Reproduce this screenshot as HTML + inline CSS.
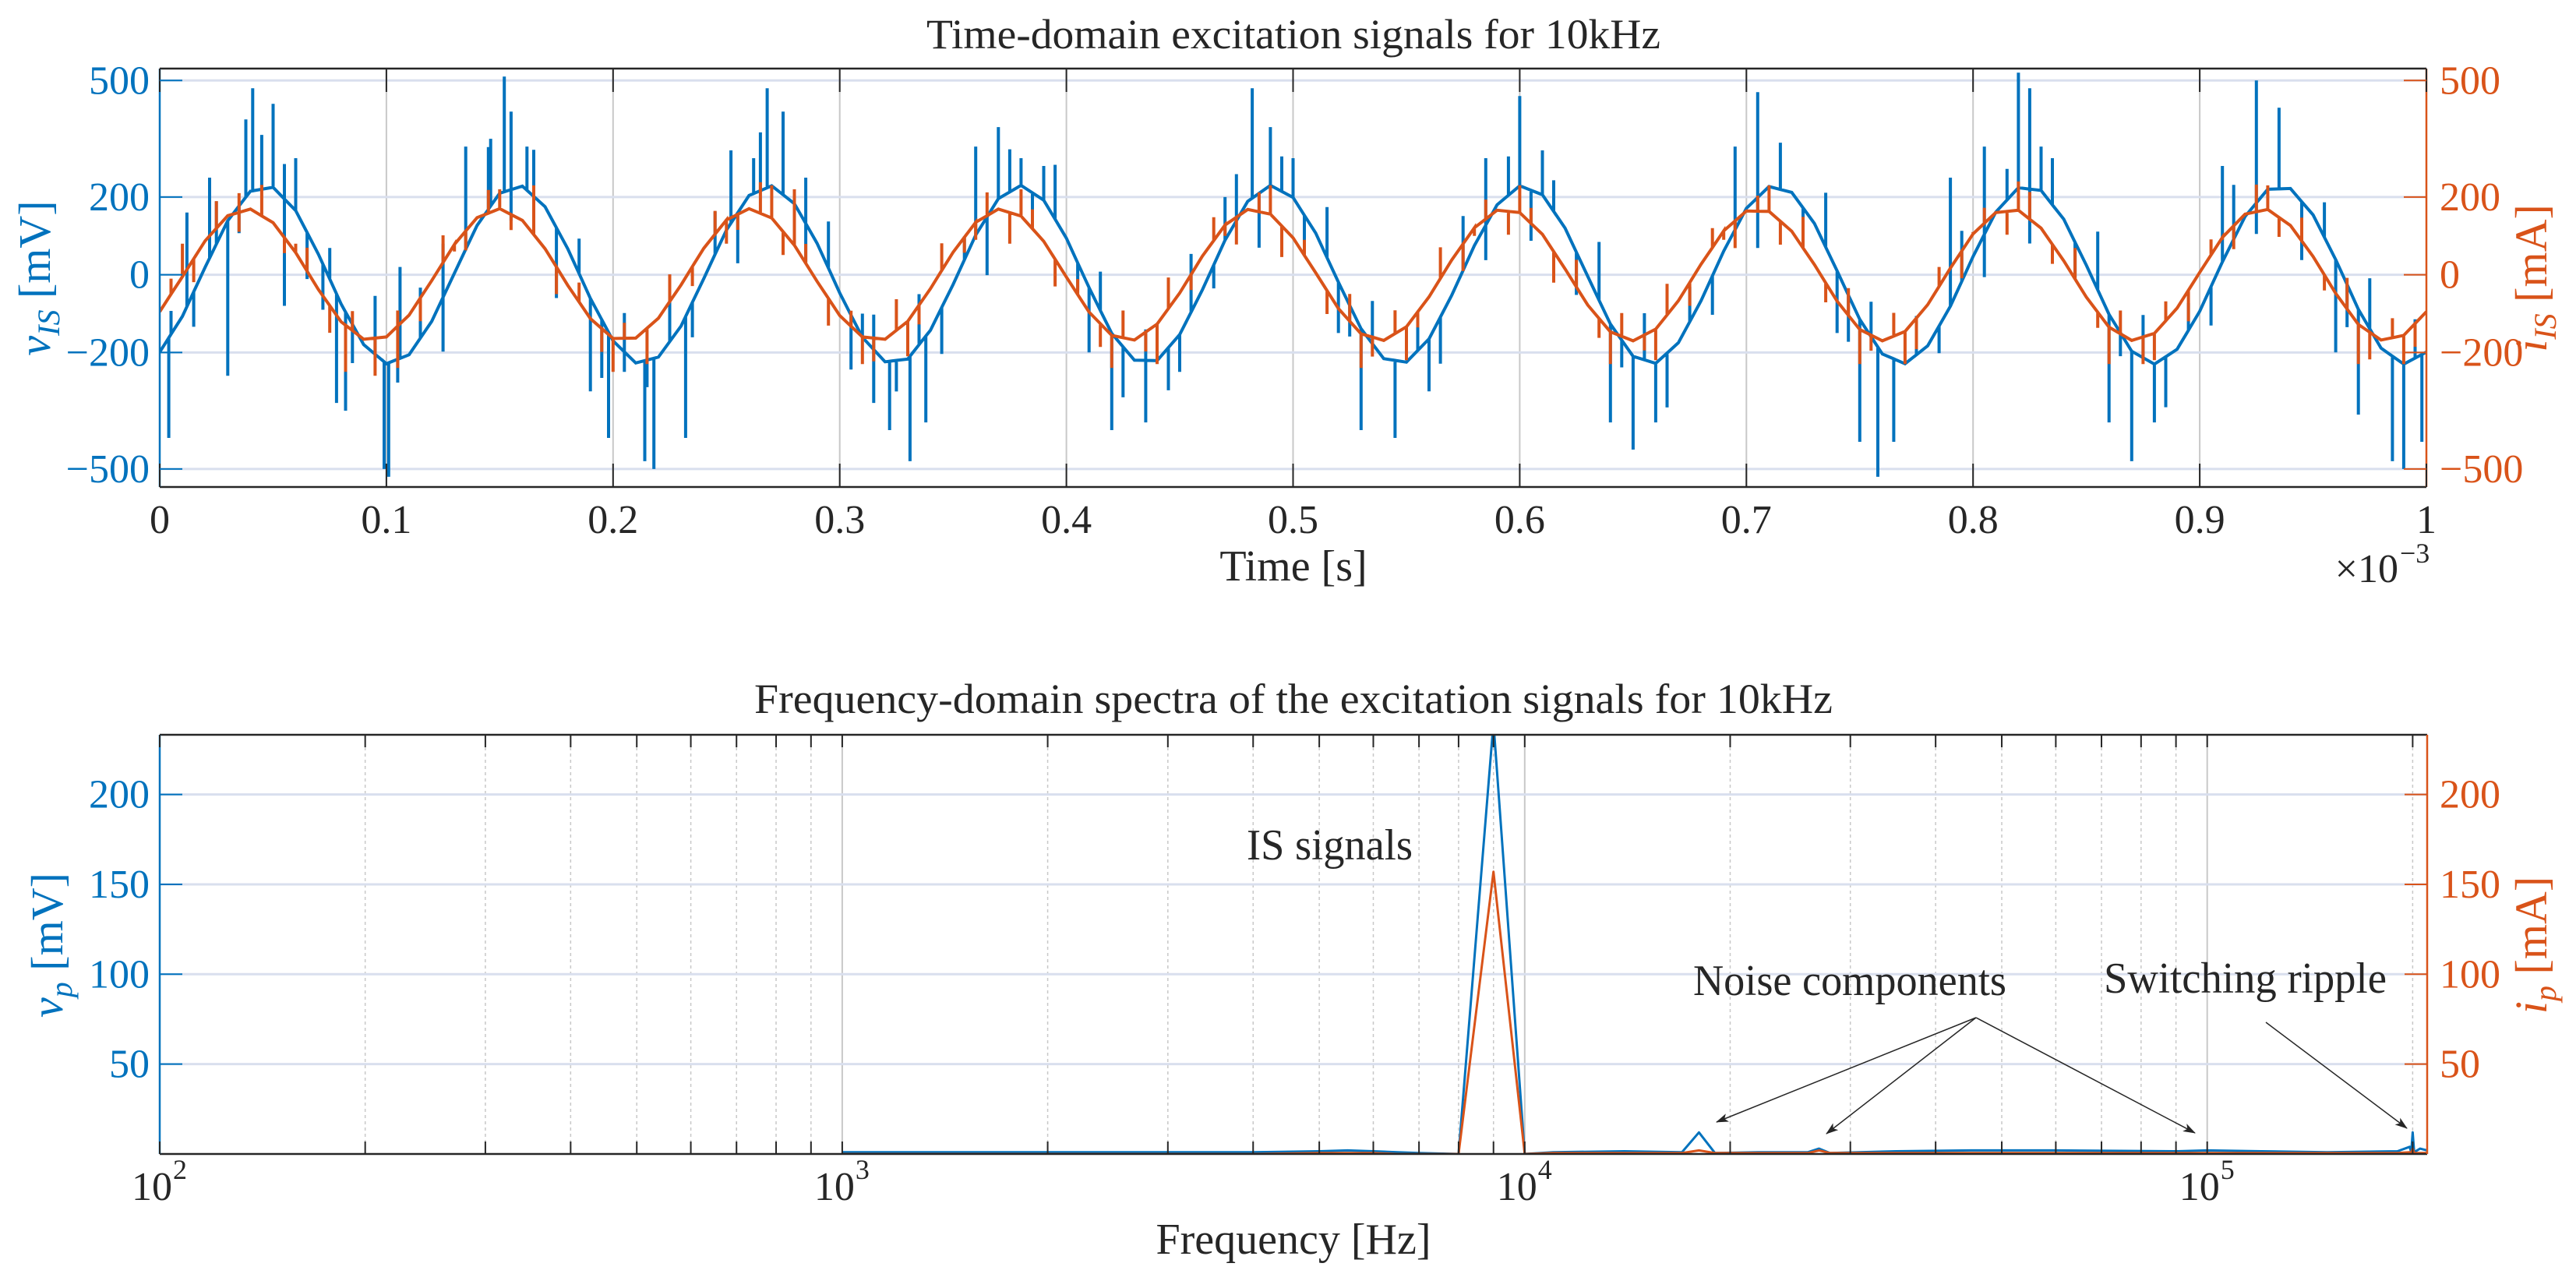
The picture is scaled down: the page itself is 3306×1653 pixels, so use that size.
<!DOCTYPE html>
<html><head><meta charset="utf-8">
<style>
html,body{margin:0;padding:0;background:#fff;}
svg{display:block;font-family:"Liberation Serif",serif;}
</style></head>
<body>
<svg id="fig" width="3306" height="1653" viewBox="0 0 3306 1653" xmlns="http://www.w3.org/2000/svg">
<rect x="0" y="0" width="3306" height="1653" fill="#fff"/>
<defs>
<clipPath id="clipTop"><rect x="205" y="88" width="2909" height="537"/></clipPath>
<clipPath id="clipBot"><rect x="205" y="943" width="2910" height="538"/></clipPath>
<marker id="arr" markerWidth="16" markerHeight="11" refX="15" refY="5.5" orient="auto" markerUnits="userSpaceOnUse"><path d="M0,0 L16,5.5 L0,11 L4,5.5 Z" fill="#262626"/></marker>
</defs>
<g id="topPlot"></g>
<g id="botPlot"></g>
</svg>
<script>
// ---------- Time-domain data (time in ms, values in mV / mA), sampled every 0.01 ms ----------
const timeStepMs = 0.01;
const vIS = [-199,-107,19,139,215,225,165,53,-75,-180,-229,-206,-120,4,127,210,228,175,67,-61,-170,-227,-212,-132,-10,115,204,229,183,81,-47,-161,-224,-217,-143,-25,102,196,230,192,94,-33,-151,-220,-221,-154,-39,89,189,230,199,107,-19,-139,-216,-225,-165,-53,75,180,229,206,120,-4,-127,-210,-228,-175,-67,61,171,227,212,132,10,-115,-204,-229,-183,-81,47,161,224,217,143,24,-102,-197,-230,-192,-94,33,150,220,222,154,39,-89,-189,-230,-199];
const iIS = [-95,-5,87,152,169,134,57,-38,-121,-166,-160,-104,-15,78,147,170,140,67,-27,-113,-164,-163,-112,-26,68,141,170,146,76,-17,-105,-160,-166,-120,-36,58,135,169,151,86,-6,-96,-156,-168,-127,-47,48,128,168,156,95,5,-87,-152,-169,-134,-57,38,121,166,160,104,15,-78,-147,-170,-140,-67,27,113,164,163,112,26,-68,-141,-170,-146,-77,17,105,160,166,120,36,-58,-135,-169,-151,-86,6,96,156,168,127,47,-48,-128,-168,-156,-95];
// mid-sample deviations (at t = 0.005 + 0.01k ms) relative to the sine, mV / mA
const vJitter = [60,-90,110,-70,140,90,-120,80,-100,150,-60,130,-140,70,160,-80,120,-110,90,-150,100,-70,140,-90,110,-130,150,80,-100,120,-140,90,-80,130,-120,60,-150,110,-90,140,-70,100,-130,80,-110,150,-60,120,-140,90,-100,130,-80,110,-150,70,-120,140,-90,100,-130,80,-110,150,-70,120,-140,90,-100,60,-130,110,-80,140,-120,90,-150,100,-70,130,-110,80,-140,120,-90,150,-60,110,-130,70,-100,140,-80,120,-150,90,-110,130,-70,100];
const iJitter = [40,-60,70,-50,80,-40,60,-70,50,-80,40,-60,70,-50,60,-40,80,-70,50,-60,40,-80,70,-50,60,-40,80,-60,50,-70,40,-60,80,-50,70,-40,60,-80,50,-70,40,-60,70,-50,80,-40,60,-70,50,-80,40,-60,70,-50,60,-40,80,-70,50,-60,40,-80,70,-50,60,-40,80,-60,50,-70,40,-60,80,-50,70,-40,60,-80,50,-70,40,-60,70,-50,80,-40,60,-70,50,-80,40,-60,70,-50,60,-40,80,-70,50,-60];
const vSpikeT = [0.004,0.012,0.022,0.030,0.038,0.041,0.050,0.055,0.060,0.072,0.078,0.082,0.099,0.101,0.106,0.125,0.135,0.146,0.152,0.155,0.162,0.175,0.190,0.198,0.205,0.214,0.218,0.232,0.252,0.262,0.268,0.275,0.285,0.310,0.315,0.322,0.331,0.338,0.360,0.370,0.380,0.390,0.410,0.420,0.435,0.450,0.470,0.482,0.490,0.500,0.520,0.530,0.545,0.560,0.585,0.600,0.610,0.640,0.650,0.660,0.695,0.705,0.715,0.740,0.750,0.758,0.765,0.790,0.805,0.820,0.825,0.830,0.860,0.870,0.880,0.910,0.925,0.935,0.960,0.970,0.985,0.990,0.998];
const vSpikeV = [-420,160,250,-260,400,480,440,-80,300,-90,-330,-350,-500,-520,20,80,330,350,510,420,330,-60,-300,-420,-250,-480,-500,-420,320,300,480,420,250,-100,-330,-400,-480,-380,330,380,300,280,-200,-400,-380,-250,200,480,380,300,-150,-400,-420,-300,300,460,320,-380,-450,-380,330,470,340,-150,-430,-520,-430,250,330,520,480,330,-380,-480,-380,280,500,430,-200,-360,-480,-500,-430];
const iSpikeT = [0.010,0.025,0.035,0.045,0.060,0.082,0.095,0.105,0.130,0.150,0.165,0.200,0.215,0.250,0.270,0.280,0.310,0.330,0.360,0.380,0.420,0.440,0.470,0.490,0.530,0.550,0.580,0.600,0.640,0.660,0.690,0.710,0.750,0.770,0.800,0.820,0.860,0.880,0.910,0.930,0.970,0.990];
const iSpikeV = [80,170,210,210,80,-250,-260,-240,60,220,230,-250,-230,80,230,220,-230,-210,90,220,-240,-230,100,230,-240,-220,100,230,-230,-220,90,230,-230,-230,110,240,-230,-220,90,230,-230,-230];
const timeTicks = [0,0.1,0.2,0.3,0.4,0.5,0.6,0.7,0.8,0.9,1];
const timeTickLabels = ["0","0.1","0.2","0.3","0.4","0.5","0.6","0.7","0.8","0.9","1"];
const topYTicks = [-500,-200,0,200,500];
// ---------- Frequency-domain data (Hz, mV / mA) ----------
const freqs = [1000,2000,3000,4000,5000,5500,6000,6500,7000,8000,9000,10000,11000,14000,17000,18000,19000,22000,26000,27000,28000,35000,45000,60000,90000,100000,120000,150000,190000,198000,199000,200000,201000,205000,210000];
const vP = [1,1,1,1,1.5,2,1.5,1,0.5,0,240,0,1,1.5,1,12,0.5,1,1,3,0.5,1.5,2,2,1.5,2,1.5,1,1.5,4,1,12,1,3,2];
const iP = [0,0,0,0,0.5,0.5,0.5,0,0,0,157,0,0.5,0.5,0.5,2,0.5,0.5,0.5,2,0.5,0.5,0.5,0.5,0.5,0.5,0.5,0.5,0.5,1,0.5,3,0.5,0.5,0.5];
const botYTicks = [50,100,150,200];
const decadeTicks = [100,1000,10000,100000];
const decadeExp = ["2","3","4","5"];
const minorTicks = [200,300,400,500,600,700,800,900,2000,3000,4000,5000,6000,7000,8000,9000,20000,30000,40000,50000,60000,70000,80000,90000,200000];

const NS="http://www.w3.org/2000/svg";
const BLUE="#0072BD", ORANGE="#D95319", AX="#262626", HGRID="#d9dfee", VGRID="#c8c8c8";
const FS=52;
function mk(parent,tag,attrs,text){const e=document.createElementNS(NS,tag);for(const k in attrs)e.setAttribute(k,attrs[k]);if(text!==undefined)e.textContent=text;parent.appendChild(e);return e;}

const T = {x0:205,x1:3114,y0:88,y1:625};
const tx = t => 205 + t*2909;
const ty = v => 352.6 - v*0.4986;
const B = {x0:205,x1:3115,y0:943,y1:1481};
const fx = f => 205 + (Math.log10(f)-2)*875.9;
const fy = v => 1481 - v*2.307;

// ================= TOP =================
const topG=document.getElementById('topPlot');
let e;
e=mk(topG,'text',{x:1660,y:62,'text-anchor':'middle','font-size':54,fill:AX,textLength:942,lengthAdjust:'spacingAndGlyphs'},'Time-domain excitation signals for 10kHz');
 
timeTicks.forEach(t=>{e=mk(topG,'line',{x1:tx(t),x2:tx(t),y1:T.y0,y2:T.y1,stroke:VGRID,'stroke-width':2});
 });
topYTicks.forEach(v=>{e=mk(topG,'line',{x1:T.x0,x2:T.x1,y1:ty(v),y2:ty(v),stroke:HGRID,'stroke-width':3});
 });
const gTop=mk(topG,'g',{'clip-path':'url(#clipTop)'});
function series(parent,vals,jit,spT,spV,color,name){
  const all=[];
  vals.forEach((v,i)=>all.push({t:i*timeStepMs,v:v,s:false}));
  jit.forEach((d,i)=>{const t=(i+0.5)*timeStepMs;all.push({t:t,v:(vals[i]+vals[i+1])/2+d,s:true});});
  spT.forEach((t,i)=>all.push({t:t,v:spV[i],s:true}));
  all.sort((a,b)=>a.t-b.t);
  let d='';
  const base=t=>{const k=Math.min(Math.floor(t/timeStepMs),vals.length-2);const f=t/timeStepMs-k;return vals[k]*(1-f)+vals[k+1]*f;};
  all.forEach((p,i)=>{
    if(p.s){const b=base(p.t);const X=tx(p.t).toFixed(1);d+=(i===0?'M':'L')+X+','+ty(b).toFixed(1)+' L'+X+','+ty(p.v).toFixed(1)+' L'+X+','+ty(b).toFixed(1)+' ';}
    else d+=(i===0?'M':'L')+tx(p.t).toFixed(1)+','+ty(p.v).toFixed(1)+' ';
  });
  const el=mk(parent,'path',{d:d,fill:'none',stroke:color,'stroke-width':4,'stroke-linejoin':'miter'});
  
  
}
series(gTop,vIS,vJitter,vSpikeT,vSpikeV,BLUE,'v-is-series');
series(gTop,iIS,iJitter,iSpikeT,iSpikeV,ORANGE,'i-is-series');
e=mk(topG,'line',{x1:T.x0,x2:T.x1,y1:T.y0,y2:T.y0,stroke:AX,'stroke-width':2.5});
e=mk(topG,'line',{x1:T.x0,x2:T.x1,y1:T.y1,y2:T.y1,stroke:AX,'stroke-width':2.5});
e=mk(topG,'line',{x1:T.x0,x2:T.x0,y1:T.y0,y2:T.y1,stroke:BLUE,'stroke-width':2.5});
e=mk(topG,'line',{x1:T.x1,x2:T.x1,y1:T.y0,y2:T.y1,stroke:ORANGE,'stroke-width':2.5});
timeTicks.forEach((t,i)=>{
  mk(topG,'line',{x1:tx(t),x2:tx(t),y1:T.y1,y2:T.y1-30,stroke:AX,'stroke-width':2});
  mk(topG,'line',{x1:tx(t),x2:tx(t),y1:T.y0,y2:T.y0+30,stroke:AX,'stroke-width':2});
  e=mk(topG,'text',{x:tx(t),y:684,'text-anchor':'middle','font-size':FS,fill:AX},timeTickLabels[i]);
   
});
topYTicks.forEach(v=>{
  mk(topG,'line',{x1:T.x0,x2:T.x0+29,y1:ty(v),y2:ty(v),stroke:BLUE,'stroke-width':2});
  mk(topG,'line',{x1:T.x1,x2:T.x1-29,y1:ty(v),y2:ty(v),stroke:ORANGE,'stroke-width':2});
  const lab=(v<0?'\u2212':'')+Math.abs(v);
  e=mk(topG,'text',{x:192,y:ty(v)+17,'text-anchor':'end','font-size':FS,fill:BLUE},lab);
   
  e=mk(topG,'text',{x:3131,y:ty(v)+17,'text-anchor':'start','font-size':FS,fill:ORANGE},lab);
   
});
e=mk(topG,'text',{x:1660,y:745,'text-anchor':'middle','font-size':56,fill:AX},'Time [s]');
 
e=mk(topG,'text',{x:3078,y:747,'text-anchor':'end','font-size':FS,fill:AX},'×10');
 
mk(topG,'text',{x:3080,y:722,'text-anchor':'start','font-size':36,fill:AX},'\u22123');
e=mk(topG,'text',{transform:'translate(64,357) rotate(-90)','text-anchor':'middle','font-size':58,fill:BLUE});
e.innerHTML='<tspan font-style="italic">v</tspan><tspan font-size="40" font-style="italic" dy="12">IS</tspan><tspan dy="-12"> [mV]</tspan>';
 
e=mk(topG,'text',{transform:'translate(3268,357) rotate(-90)','text-anchor':'middle','font-size':58,fill:ORANGE});
e.innerHTML='<tspan font-style="italic">i</tspan><tspan font-size="40" font-style="italic" dy="12">IS</tspan><tspan dy="-12"> [mA]</tspan>';
 

// ================= BOTTOM =================
const botG=document.getElementById('botPlot');
e=mk(botG,'text',{x:1660,y:915,'text-anchor':'middle','font-size':54,fill:AX,textLength:1384,lengthAdjust:'spacingAndGlyphs'},'Frequency-domain spectra of the excitation signals for 10kHz');
 
minorTicks.forEach(f=>{e=mk(botG,'line',{x1:fx(f),x2:fx(f),y1:B.y0,y2:B.y1,stroke:VGRID,'stroke-width':1.5,'stroke-dasharray':'4,4'});
 });
decadeTicks.forEach(f=>{e=mk(botG,'line',{x1:fx(f),x2:fx(f),y1:B.y0,y2:B.y1,stroke:VGRID,'stroke-width':2});
 });
botYTicks.forEach(v=>{e=mk(botG,'line',{x1:B.x0,x2:B.x1,y1:fy(v),y2:fy(v),stroke:HGRID,'stroke-width':3});
 });
const gBot=mk(botG,'g',{'clip-path':'url(#clipBot)'});
function spec(vals,color,name){
  const d=freqs.map((f,i)=>(i?'L':'M')+fx(f).toFixed(1)+','+fy(vals[i]).toFixed(1)).join(' ');
  const el=mk(gBot,'path',{d:d,fill:'none',stroke:color,'stroke-width':3,'stroke-linejoin':'round'});
  
  
}
spec(vP,BLUE,'v-p-spectrum');
spec(iP,ORANGE,'i-p-spectrum');
e=mk(botG,'line',{x1:B.x0,x2:B.x1,y1:B.y0,y2:B.y0,stroke:AX,'stroke-width':2.5});
e=mk(botG,'line',{x1:B.x0,x2:B.x1,y1:B.y1,y2:B.y1,stroke:AX,'stroke-width':2.5});
e=mk(botG,'line',{x1:B.x0,x2:B.x0,y1:B.y0,y2:B.y1,stroke:BLUE,'stroke-width':2.5});
e=mk(botG,'line',{x1:B.x1,x2:B.x1,y1:B.y0,y2:B.y1,stroke:ORANGE,'stroke-width':2.5});
minorTicks.concat(decadeTicks).forEach(f=>{
  mk(botG,'line',{x1:fx(f),x2:fx(f),y1:B.y1,y2:B.y1-16,stroke:AX,'stroke-width':2});
  mk(botG,'line',{x1:fx(f),x2:fx(f),y1:B.y0,y2:B.y0+16,stroke:AX,'stroke-width':2});
});
decadeTicks.forEach((f,i)=>{
  e=mk(botG,'text',{x:fx(f)-10,y:1540,'text-anchor':'middle','font-size':FS,fill:AX},'10');
   
  mk(botG,'text',{x:fx(f)+17,y:1513,'text-anchor':'start','font-size':36,fill:AX},decadeExp[i]);
});
botYTicks.forEach(v=>{
  mk(botG,'line',{x1:B.x0,x2:B.x0+29,y1:fy(v),y2:fy(v),stroke:BLUE,'stroke-width':2});
  mk(botG,'line',{x1:B.x1,x2:B.x1-29,y1:fy(v),y2:fy(v),stroke:ORANGE,'stroke-width':2});
  e=mk(botG,'text',{x:192,y:fy(v)+17,'text-anchor':'end','font-size':FS,fill:BLUE},String(v));
   
  e=mk(botG,'text',{x:3131,y:fy(v)+17,'text-anchor':'start','font-size':FS,fill:ORANGE},String(v));
   
});
e=mk(botG,'text',{x:1660,y:1609,'text-anchor':'middle','font-size':56,fill:AX},'Frequency [Hz]');
 
e=mk(botG,'text',{transform:'translate(80,1213) rotate(-90)','text-anchor':'middle','font-size':58,fill:BLUE});
e.innerHTML='<tspan font-style="italic">v</tspan><tspan font-size="40" font-style="italic" dy="12">p</tspan><tspan dy="-12"> [mV]</tspan>';
 
e=mk(botG,'text',{transform:'translate(3268,1213) rotate(-90)','text-anchor':'middle','font-size':58,fill:ORANGE});
e.innerHTML='<tspan font-style="italic">i</tspan><tspan font-size="40" font-style="italic" dy="12">p</tspan><tspan dy="-12"> [mA]</tspan>';
 
e=mk(botG,'text',{x:1600,y:1103,'font-size':56,fill:AX,textLength:213,lengthAdjust:'spacingAndGlyphs'},'IS signals');
 
e=mk(botG,'text',{x:2173,y:1277,'font-size':56,fill:AX,textLength:402,lengthAdjust:'spacingAndGlyphs'},'Noise components');
 
e=mk(botG,'text',{x:2700,y:1274,'font-size':56,fill:AX,textLength:363,lengthAdjust:'spacingAndGlyphs'},'Switching ripple');
 
[[2536,1306,2203,1440],[2536,1306,2344,1455],[2536,1306,2817,1454],[2908,1312,3089,1448]].forEach(a=>{
  e=mk(botG,'line',{x1:a[0],y1:a[1],x2:a[2],y2:a[3],stroke:AX,'stroke-width':1.5,'marker-end':'url(#arr)'});
   
});
</script>
</body></html>
